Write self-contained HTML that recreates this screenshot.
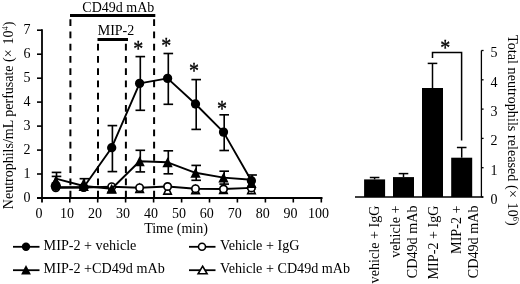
<!DOCTYPE html>
<html><head><meta charset="utf-8"><title>Figure</title>
<style>html,body{margin:0;padding:0;background:#fff}svg{display:block}text{font-family:"Liberation Serif","Times New Roman",serif;fill:#000}</style>
</head><body>
<svg width="520" height="284" viewBox="0 0 520 284">
<rect width="520" height="284" fill="#fff"/>
<line x1="70.4" y1="19.2" x2="70.4" y2="198" stroke="#000" stroke-width="2" stroke-dasharray="6.8 5.45" stroke-dashoffset="0"/>
<line x1="98.0" y1="43.7" x2="98.0" y2="198" stroke="#000" stroke-width="2" stroke-dasharray="6.8 5.45" stroke-dashoffset="0"/>
<line x1="125.9" y1="43.7" x2="125.9" y2="198" stroke="#000" stroke-width="2" stroke-dasharray="6.8 5.45" stroke-dashoffset="0"/>
<line x1="154.1" y1="19.2" x2="154.1" y2="198" stroke="#000" stroke-width="2" stroke-dasharray="6.8 5.45" stroke-dashoffset="0"/>
<rect x="70" y="14" width="85.3" height="3" fill="#000"/>
<rect x="97.5" y="38" width="30.5" height="3" fill="#000"/>
<text x="118.3" y="11.6" font-size="14" text-anchor="middle">CD49d mAb</text>
<text x="116" y="35.3" font-size="14" text-anchor="middle">MIP-2</text>
<line x1="42" y1="29.3" x2="42" y2="202.5" stroke="#000" stroke-width="1.8"/>
<line x1="37" y1="198" x2="322.5" y2="198" stroke="#000" stroke-width="1.8"/>
<line x1="37" y1="174.0" x2="42" y2="174.0" stroke="#000" stroke-width="1.6"/>
<text x="30.4" y="177.9" font-size="14" text-anchor="end">1</text>
<line x1="37" y1="150.1" x2="42" y2="150.1" stroke="#000" stroke-width="1.6"/>
<text x="30.4" y="154.0" font-size="14" text-anchor="end">2</text>
<line x1="37" y1="126.1" x2="42" y2="126.1" stroke="#000" stroke-width="1.6"/>
<text x="30.4" y="130.0" font-size="14" text-anchor="end">3</text>
<line x1="37" y1="102.1" x2="42" y2="102.1" stroke="#000" stroke-width="1.6"/>
<text x="30.4" y="106.0" font-size="14" text-anchor="end">4</text>
<line x1="37" y1="78.2" x2="42" y2="78.2" stroke="#000" stroke-width="1.6"/>
<text x="30.4" y="82.1" font-size="14" text-anchor="end">5</text>
<line x1="37" y1="54.2" x2="42" y2="54.2" stroke="#000" stroke-width="1.6"/>
<text x="30.4" y="58.1" font-size="14" text-anchor="end">6</text>
<line x1="37" y1="30.2" x2="42" y2="30.2" stroke="#000" stroke-width="1.6"/>
<text x="30.4" y="34.1" font-size="14" text-anchor="end">7</text>
<text x="30.4" y="201.9" font-size="14" text-anchor="end">0</text>
<line x1="69.8" y1="198" x2="69.8" y2="202.5" stroke="#000" stroke-width="1.6"/>
<line x1="97.7" y1="198" x2="97.7" y2="202.5" stroke="#000" stroke-width="1.6"/>
<line x1="125.6" y1="198" x2="125.6" y2="202.5" stroke="#000" stroke-width="1.6"/>
<line x1="153.6" y1="198" x2="153.6" y2="202.5" stroke="#000" stroke-width="1.6"/>
<line x1="181.6" y1="198" x2="181.6" y2="202.5" stroke="#000" stroke-width="1.6"/>
<line x1="209.5" y1="198" x2="209.5" y2="202.5" stroke="#000" stroke-width="1.6"/>
<line x1="237.4" y1="198" x2="237.4" y2="202.5" stroke="#000" stroke-width="1.6"/>
<line x1="265.4" y1="198" x2="265.4" y2="202.5" stroke="#000" stroke-width="1.6"/>
<line x1="293.3" y1="198" x2="293.3" y2="202.5" stroke="#000" stroke-width="1.6"/>
<line x1="321.3" y1="198" x2="321.3" y2="202.5" stroke="#000" stroke-width="1.6"/>
<text x="39.1" y="217.7" font-size="14" text-anchor="middle">0</text>
<text x="67.0" y="217.7" font-size="14" text-anchor="middle">10</text>
<text x="95.0" y="217.7" font-size="14" text-anchor="middle">20</text>
<text x="122.9" y="217.7" font-size="14" text-anchor="middle">30</text>
<text x="150.9" y="217.7" font-size="14" text-anchor="middle">40</text>
<text x="178.9" y="217.7" font-size="14" text-anchor="middle">50</text>
<text x="206.8" y="217.7" font-size="14" text-anchor="middle">60</text>
<text x="234.8" y="217.7" font-size="14" text-anchor="middle">70</text>
<text x="262.7" y="217.7" font-size="14" text-anchor="middle">80</text>
<text x="290.6" y="217.7" font-size="14" text-anchor="middle">90</text>
<text x="318.6" y="217.7" font-size="14" text-anchor="middle">100</text>
<text x="176" y="233" font-size="14" text-anchor="middle">Time (min)</text>
<text transform="translate(12.8,115.4) rotate(-90)" font-size="14" text-anchor="middle">Neutrophils/mL perfusate (×<tspan dx="1.3"> 10</tspan><tspan font-size="8.5" dy="-5">4</tspan><tspan dy="5">)</tspan></text>
<polygon points="55.8,177.7 59.5,185.7 52.0,185.7" fill="#fff" stroke="#000" stroke-width="1.6" stroke-linejoin="miter"/>
<polygon points="83.7,180.0 87.5,188.0 80.0,188.0" fill="#fff" stroke="#000" stroke-width="1.6" stroke-linejoin="miter"/>
<polygon points="111.7,184.4 115.4,192.4 107.9,192.4" fill="#fff" stroke="#000" stroke-width="1.6" stroke-linejoin="miter"/>
<polygon points="139.6,184.4 143.4,192.4 135.9,192.4" fill="#fff" stroke="#000" stroke-width="1.6" stroke-linejoin="miter"/>
<polygon points="167.6,186.1 171.3,194.1 163.8,194.1" fill="#fff" stroke="#000" stroke-width="1.6" stroke-linejoin="miter"/>
<polygon points="195.5,185.6 199.3,193.6 191.8,193.6" fill="#fff" stroke="#000" stroke-width="1.6" stroke-linejoin="miter"/>
<polygon points="223.5,185.4 227.2,193.4 219.7,193.4" fill="#fff" stroke="#000" stroke-width="1.6" stroke-linejoin="miter"/>
<polygon points="251.4,185.6 255.2,193.6 247.7,193.6" fill="#fff" stroke="#000" stroke-width="1.6" stroke-linejoin="miter"/>
<line x1="56.5" y1="176.4" x2="56.5" y2="181.7" stroke="#000" stroke-width="1.65"/>
<line x1="51.7" y1="176.4" x2="61.3" y2="176.4" stroke="#000" stroke-width="1.65"/>
<line x1="84.4" y1="178.7" x2="84.4" y2="184.0" stroke="#000" stroke-width="1.65"/>
<line x1="79.6" y1="178.7" x2="89.2" y2="178.7" stroke="#000" stroke-width="1.65"/>
<polyline points="55.8,187.7 83.7,187.5 111.7,186.7 139.6,187.7 167.6,186.5 195.5,188.7 223.5,189.0 251.4,187.9" fill="none" stroke="#000" stroke-width="1.9" stroke-linejoin="round"/>
<circle cx="55.8" cy="187.7" r="3.7" fill="#fff" stroke="#000" stroke-width="1.7"/>
<circle cx="83.7" cy="187.5" r="3.7" fill="#fff" stroke="#000" stroke-width="1.7"/>
<circle cx="111.7" cy="186.7" r="3.7" fill="#fff" stroke="#000" stroke-width="1.7"/>
<circle cx="139.6" cy="187.7" r="3.7" fill="#fff" stroke="#000" stroke-width="1.7"/>
<circle cx="167.6" cy="186.5" r="3.7" fill="#fff" stroke="#000" stroke-width="1.7"/>
<circle cx="195.5" cy="188.7" r="3.7" fill="#fff" stroke="#000" stroke-width="1.7"/>
<circle cx="223.5" cy="189.0" r="3.7" fill="#fff" stroke="#000" stroke-width="1.7"/>
<circle cx="251.4" cy="187.9" r="3.7" fill="#fff" stroke="#000" stroke-width="1.7"/>
<line x1="112.4" y1="125.6" x2="112.4" y2="171.6" stroke="#000" stroke-width="1.65"/>
<line x1="107.6" y1="125.6" x2="117.2" y2="125.6" stroke="#000" stroke-width="1.65"/>
<line x1="107.6" y1="171.6" x2="117.2" y2="171.6" stroke="#000" stroke-width="1.65"/>
<line x1="140.3" y1="56.6" x2="140.3" y2="110.3" stroke="#000" stroke-width="1.65"/>
<line x1="135.5" y1="56.6" x2="145.1" y2="56.6" stroke="#000" stroke-width="1.65"/>
<line x1="135.5" y1="110.3" x2="145.1" y2="110.3" stroke="#000" stroke-width="1.65"/>
<line x1="168.3" y1="53.5" x2="168.3" y2="104.3" stroke="#000" stroke-width="1.65"/>
<line x1="163.5" y1="53.5" x2="173.1" y2="53.5" stroke="#000" stroke-width="1.65"/>
<line x1="163.5" y1="104.3" x2="173.1" y2="104.3" stroke="#000" stroke-width="1.65"/>
<line x1="196.2" y1="79.6" x2="196.2" y2="129.4" stroke="#000" stroke-width="1.65"/>
<line x1="191.4" y1="79.6" x2="201.0" y2="79.6" stroke="#000" stroke-width="1.65"/>
<line x1="191.4" y1="129.4" x2="201.0" y2="129.4" stroke="#000" stroke-width="1.65"/>
<line x1="224.2" y1="114.8" x2="224.2" y2="150.5" stroke="#000" stroke-width="1.65"/>
<line x1="219.4" y1="114.8" x2="229.0" y2="114.8" stroke="#000" stroke-width="1.65"/>
<line x1="219.4" y1="150.5" x2="229.0" y2="150.5" stroke="#000" stroke-width="1.65"/>
<polyline points="55.8,187.2 83.7,187.2 111.7,147.7 139.6,83.4 167.6,78.4 195.5,104.0 223.5,132.1 251.4,180.7" fill="none" stroke="#000" stroke-width="1.9" stroke-linejoin="round"/>
<circle cx="55.8" cy="185.9" r="5.1" fill="#000"/>
<circle cx="83.7" cy="187.2" r="4.65" fill="#000"/>
<circle cx="111.7" cy="147.7" r="4.65" fill="#000"/>
<circle cx="139.6" cy="83.4" r="4.65" fill="#000"/>
<circle cx="167.6" cy="78.4" r="4.65" fill="#000"/>
<circle cx="195.5" cy="104.0" r="4.65" fill="#000"/>
<circle cx="223.5" cy="132.1" r="4.65" fill="#000"/>
<circle cx="251.4" cy="180.7" r="4.65" fill="#000"/>
<line x1="56.5" y1="172.4" x2="56.5" y2="181.2" stroke="#000" stroke-width="1.65"/>
<line x1="51.7" y1="172.4" x2="61.3" y2="172.4" stroke="#000" stroke-width="1.65"/>
<line x1="140.3" y1="150.3" x2="140.3" y2="171.9" stroke="#000" stroke-width="1.65"/>
<line x1="135.5" y1="150.3" x2="145.1" y2="150.3" stroke="#000" stroke-width="1.65"/>
<line x1="135.5" y1="171.9" x2="145.1" y2="171.9" stroke="#000" stroke-width="1.65"/>
<line x1="168.3" y1="150.8" x2="168.3" y2="173.8" stroke="#000" stroke-width="1.65"/>
<line x1="163.5" y1="150.8" x2="173.1" y2="150.8" stroke="#000" stroke-width="1.65"/>
<line x1="163.5" y1="173.8" x2="173.1" y2="173.8" stroke="#000" stroke-width="1.65"/>
<line x1="196.2" y1="165.4" x2="196.2" y2="180.3" stroke="#000" stroke-width="1.65"/>
<line x1="191.4" y1="165.4" x2="201.0" y2="165.4" stroke="#000" stroke-width="1.65"/>
<line x1="191.4" y1="180.3" x2="201.0" y2="180.3" stroke="#000" stroke-width="1.65"/>
<line x1="224.2" y1="171.2" x2="224.2" y2="184.1" stroke="#000" stroke-width="1.65"/>
<line x1="219.4" y1="171.2" x2="229.0" y2="171.2" stroke="#000" stroke-width="1.65"/>
<line x1="219.4" y1="184.1" x2="229.0" y2="184.1" stroke="#000" stroke-width="1.65"/>
<line x1="252.1" y1="175.0" x2="252.1" y2="183.0" stroke="#000" stroke-width="1.65"/>
<line x1="247.3" y1="175.0" x2="256.9" y2="175.0" stroke="#000" stroke-width="1.65"/>
<polyline points="55.8,178.7 83.7,186.0 111.7,188.7 139.6,161.3 167.6,162.3 195.5,172.8 223.5,177.6 251.4,179.7" fill="none" stroke="#000" stroke-width="1.9" stroke-linejoin="round"/>
<polygon points="55.8,176.2 60.9,186.2 50.6,186.2" fill="#000"/>
<polygon points="83.7,181.0 88.9,191.0 78.6,191.0" fill="#000"/>
<polygon points="111.7,183.7 116.8,193.7 106.5,193.7" fill="#000"/>
<polygon points="139.6,156.3 144.8,166.3 134.5,166.3" fill="#000"/>
<polygon points="167.6,157.3 172.7,167.3 162.4,167.3" fill="#000"/>
<polygon points="195.5,167.8 200.7,177.8 190.4,177.8" fill="#000"/>
<polygon points="223.5,172.6 228.6,182.6 218.3,182.6" fill="#000"/>
<polygon points="251.4,178.0 256.6,188.0 246.3,188.0" fill="#000"/>
<text transform="translate(138.3,56.0) scale(1,1.14)" font-size="20" text-anchor="middle" stroke="#000" stroke-width="0.3">*</text>
<text transform="translate(166.2,52.5) scale(1,1.14)" font-size="20" text-anchor="middle" stroke="#000" stroke-width="0.3">*</text>
<text transform="translate(194,78.1) scale(1,1.14)" font-size="20" text-anchor="middle" stroke="#000" stroke-width="0.3">*</text>
<text transform="translate(222,116.3) scale(1,1.14)" font-size="20" text-anchor="middle" stroke="#000" stroke-width="0.3">*</text>
<line x1="13" y1="246.8" x2="39.5" y2="246.8" stroke="#000" stroke-width="1.8"/>
<circle cx="26" cy="246.8" r="4.2" fill="#000"/>
<text x="43.6" y="250" font-size="14.15">MIP-2 + vehicle</text>
<line x1="13" y1="270.2" x2="39.5" y2="270.2" stroke="#000" stroke-width="1.8"/>
<polygon points="26.0,265.0 30.9,274.6 21.1,274.6" fill="#000"/>
<text x="43.6" y="273" font-size="14.15">MIP-2 +CD49d mAb</text>
<line x1="189" y1="246.8" x2="215.5" y2="246.8" stroke="#000" stroke-width="1.8"/>
<circle cx="202" cy="246.8" r="3.5" fill="#fff" stroke="#000" stroke-width="1.6"/>
<text x="220" y="250" font-size="14.15">Vehicle + IgG</text>
<line x1="189" y1="270.2" x2="215.5" y2="270.2" stroke="#000" stroke-width="1.8"/>
<polygon points="202.6,266.2 207.1,273.8 198.1,273.8" fill="#fff" stroke="#000" stroke-width="1.6" stroke-linejoin="miter"/>
<text x="220" y="273" font-size="14.15">Vehicle + CD49d mAb</text>
<line x1="374.6" y1="177.5" x2="374.6" y2="179.4" stroke="#000" stroke-width="1.5"/>
<line x1="369.8" y1="177.5" x2="379.4" y2="177.5" stroke="#000" stroke-width="1.5"/>
<rect x="364.1" y="179.4" width="21" height="17.6" fill="#000"/>
<line x1="403.5" y1="173.6" x2="403.5" y2="177.1" stroke="#000" stroke-width="1.5"/>
<line x1="398.7" y1="173.6" x2="408.3" y2="173.6" stroke="#000" stroke-width="1.5"/>
<rect x="393" y="177.1" width="21" height="19.9" fill="#000"/>
<line x1="432.5" y1="63.4" x2="432.5" y2="88.0" stroke="#000" stroke-width="1.5"/>
<line x1="427.7" y1="63.4" x2="437.3" y2="63.4" stroke="#000" stroke-width="1.5"/>
<rect x="422" y="88.0" width="21" height="109.0" fill="#000"/>
<line x1="461.7" y1="147.5" x2="461.7" y2="157.7" stroke="#000" stroke-width="1.5"/>
<line x1="456.9" y1="147.5" x2="466.5" y2="147.5" stroke="#000" stroke-width="1.5"/>
<rect x="451.2" y="157.7" width="21" height="39.3" fill="#000"/>
<line x1="355" y1="197" x2="483" y2="197" stroke="#000" stroke-width="1.5"/>
<line x1="481.4" y1="50.5" x2="481.4" y2="197" stroke="#000" stroke-width="1.3"/>
<line x1="481.4" y1="197.0" x2="483.6" y2="197.0" stroke="#000" stroke-width="1.3"/>
<text x="494" y="203.8" font-size="14" text-anchor="middle">0</text>
<line x1="481.4" y1="167.7" x2="483.6" y2="167.7" stroke="#000" stroke-width="1.3"/>
<text x="494" y="174.5" font-size="14" text-anchor="middle">1</text>
<line x1="481.4" y1="138.4" x2="483.6" y2="138.4" stroke="#000" stroke-width="1.3"/>
<text x="494" y="145.2" font-size="14" text-anchor="middle">2</text>
<line x1="481.4" y1="109.1" x2="483.6" y2="109.1" stroke="#000" stroke-width="1.3"/>
<text x="494" y="115.9" font-size="14" text-anchor="middle">3</text>
<line x1="481.4" y1="79.8" x2="483.6" y2="79.8" stroke="#000" stroke-width="1.3"/>
<text x="494" y="86.6" font-size="14" text-anchor="middle">4</text>
<line x1="481.4" y1="50.5" x2="483.6" y2="50.5" stroke="#000" stroke-width="1.3"/>
<text x="494" y="57.3" font-size="14" text-anchor="middle">5</text>
<polyline points="432.5,58 432.5,52.4 461.6,52.4 461.6,140.5" fill="none" stroke="#000" stroke-width="1.5"/>
<text transform="translate(445.2,55.3) scale(1,1.14)" font-size="20" text-anchor="middle" stroke="#000" stroke-width="0.3">*</text>
<text transform="translate(508.2,130.4) rotate(90)" font-size="14.2" text-anchor="middle">Total neutrophils released (×<tspan dx="1.4"> 10</tspan><tspan font-size="8.5" dy="-5">6</tspan><tspan dy="5">)</tspan></text>
<text transform="translate(378.6,205.5) rotate(-90)" font-size="14.15" text-anchor="end">vehicle + IgG</text>
<text transform="translate(400.3,205.5) rotate(-90)" font-size="14.15" text-anchor="end">vehicle +</text>
<text transform="translate(417.2,205.5) rotate(-90)" font-size="14.15" text-anchor="end">CD49d mAb</text>
<text transform="translate(438.2,205.5) rotate(-90)" font-size="14.15" text-anchor="end">MIP-2 + IgG</text>
<text transform="translate(461.2,205.5) rotate(-90)" font-size="14.15" text-anchor="end">MIP-2 +</text>
<text transform="translate(477.5,205.5) rotate(-90)" font-size="14.15" text-anchor="end">CD49d mAb</text>
</svg></body></html>
